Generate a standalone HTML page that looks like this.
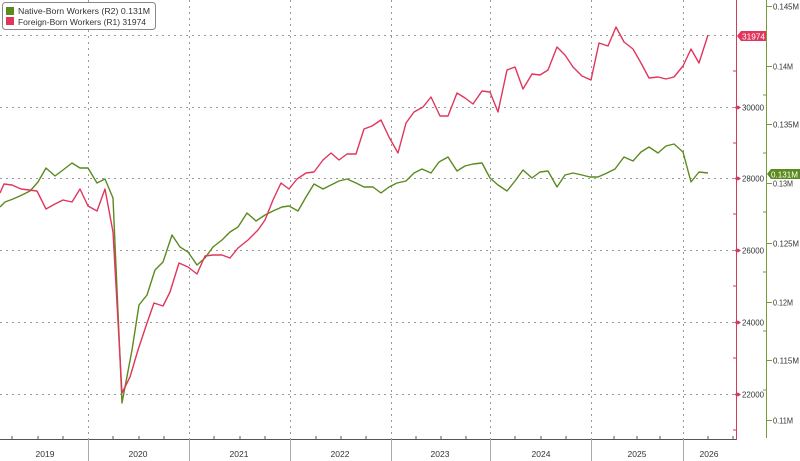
<!DOCTYPE html>
<html><head><meta charset="utf-8"><style>
html,body{margin:0;padding:0;background:#fff;}
svg{display:block;}
text{font-family:"Liberation Sans","DejaVu Sans",sans-serif;}
</style></head><body>
<svg width="800" height="461" viewBox="0 0 800 461" xmlns="http://www.w3.org/2000/svg">
<rect width="800" height="461" fill="#fff"/>
<!-- horizontal grid -->
<g stroke="#999" stroke-width="1" stroke-dasharray="2,4">
<line x1="0" y1="35.5" x2="736" y2="35.5"/>
<line x1="0" y1="107.5" x2="736" y2="107.5"/>
<line x1="0" y1="178.5" x2="736" y2="178.5"/>
<line x1="0" y1="250.5" x2="736" y2="250.5"/>
<line x1="0" y1="322.5" x2="736" y2="322.5"/>
<line x1="0" y1="394.5" x2="736" y2="394.5"/>
</g>
<!-- vertical grid -->
<g stroke="#999" stroke-width="1" stroke-dasharray="2,4">
<line x1="88.5" y1="0" x2="88.5" y2="439"/>
<line x1="189.5" y1="0" x2="189.5" y2="439"/>
<line x1="290.5" y1="0" x2="290.5" y2="439"/>
<line x1="391.5" y1="0" x2="391.5" y2="439"/>
<line x1="490.5" y1="0" x2="490.5" y2="439"/>
<line x1="591.5" y1="0" x2="591.5" y2="439"/>
<line x1="683.5" y1="0" x2="683.5" y2="439"/>
</g>
<!-- x axis -->
<line x1="0" y1="439.5" x2="737" y2="439.5" stroke="#555" stroke-width="1"/>
<g stroke="#555" stroke-width="1">
<line x1="12" y1="436" x2="12" y2="439"/><line x1="38" y1="436" x2="38" y2="439"/><line x1="63" y1="436" x2="63" y2="439"/>
<line x1="113" y1="436" x2="113" y2="439"/><line x1="139" y1="436" x2="139" y2="439"/><line x1="164" y1="436" x2="164" y2="439"/>
<line x1="214" y1="436" x2="214" y2="439"/><line x1="240" y1="436" x2="240" y2="439"/><line x1="265" y1="436" x2="265" y2="439"/>
<line x1="316" y1="436" x2="316" y2="439"/><line x1="341" y1="436" x2="341" y2="439"/><line x1="366" y1="436" x2="366" y2="439"/>
<line x1="416" y1="436" x2="416" y2="439"/><line x1="441" y1="436" x2="441" y2="439"/><line x1="466" y1="436" x2="466" y2="439"/>
<line x1="515" y1="436" x2="515" y2="439"/><line x1="541" y1="436" x2="541" y2="439"/><line x1="566" y1="436" x2="566" y2="439"/>
<line x1="614" y1="436" x2="614" y2="439"/><line x1="637" y1="436" x2="637" y2="439"/><line x1="660" y1="436" x2="660" y2="439"/>
<line x1="708" y1="436" x2="708" y2="439"/><line x1="733" y1="436" x2="733" y2="439"/>
</g>
<g stroke="#aaa" stroke-width="1">
<line x1="88.5" y1="439" x2="88.5" y2="461"/>
<line x1="189.5" y1="439" x2="189.5" y2="461"/>
<line x1="290.5" y1="439" x2="290.5" y2="461"/>
<line x1="391.5" y1="439" x2="391.5" y2="461"/>
<line x1="490.5" y1="439" x2="490.5" y2="461"/>
<line x1="591.5" y1="439" x2="591.5" y2="461"/>
<line x1="683.5" y1="439" x2="683.5" y2="461"/>
</g>
<g font-size="8.5" fill="#333" text-anchor="middle">
<text x="45" y="457">2019</text>
<text x="138" y="457">2020</text>
<text x="239" y="457">2021</text>
<text x="340" y="457">2022</text>
<text x="440" y="457">2023</text>
<text x="541" y="457">2024</text>
<text x="637" y="457">2025</text>
<text x="709" y="457">2026</text>
</g>
<!-- red axis -->
<line x1="736.5" y1="0" x2="736.5" y2="440" stroke="#d23a5c" stroke-width="1"/>
<g stroke="#d23a5c" stroke-width="1">
<line x1="733" y1="71" x2="737" y2="71"/><line x1="733" y1="143" x2="737" y2="143"/><line x1="733" y1="214" x2="737" y2="214"/>
<line x1="733" y1="286" x2="737" y2="286"/><line x1="733" y1="358" x2="737" y2="358"/><line x1="733" y1="430" x2="737" y2="430"/>
</g>
<g fill="#d23a5c">
<path d="M734,107.5 L738,105.5 L741,107.5 L738,109.5Z"/>
<path d="M734,178.5 L738,176.5 L741,178.5 L738,180.5Z"/>
<path d="M734,250.5 L738,248.5 L741,250.5 L738,252.5Z"/>
<path d="M734,322.5 L738,320.5 L741,322.5 L738,324.5Z"/>
<path d="M734,394.5 L738,392.5 L741,394.5 L738,396.5Z"/>
</g>
<g font-size="8" fill="#333">
<text x="742" y="110.5" textLength="22" lengthAdjust="spacingAndGlyphs">30000</text>
<text x="742" y="181.5" textLength="22" lengthAdjust="spacingAndGlyphs">28000</text>
<text x="742" y="253.5" textLength="22" lengthAdjust="spacingAndGlyphs">26000</text>
<text x="742" y="325.5" textLength="22" lengthAdjust="spacingAndGlyphs">24000</text>
<text x="742" y="397.5" textLength="22" lengthAdjust="spacingAndGlyphs">22000</text>
</g>
<!-- green axis -->
<line x1="766.5" y1="0" x2="766.5" y2="438" stroke="#7a9a3a" stroke-width="1"/>
<g stroke="#7a9a3a" stroke-width="1">
<line x1="763" y1="36" x2="767" y2="36"/><line x1="763" y1="95" x2="767" y2="95"/><line x1="763" y1="153" x2="767" y2="153"/>
<line x1="763" y1="212" x2="767" y2="212"/><line x1="763" y1="272" x2="767" y2="272"/><line x1="763" y1="331" x2="767" y2="331"/>
<line x1="763" y1="390" x2="767" y2="390"/>
<line x1="767" y1="6.5" x2="772" y2="6.5"/><line x1="767" y1="66.5" x2="772" y2="66.5"/><line x1="767" y1="124.5" x2="772" y2="124.5"/>
<line x1="767" y1="183.5" x2="772" y2="183.5"/><line x1="767" y1="243.5" x2="772" y2="243.5"/><line x1="767" y1="302.5" x2="772" y2="302.5"/>
<line x1="767" y1="360.5" x2="772" y2="360.5"/><line x1="767" y1="420.5" x2="772" y2="420.5"/>
</g>
<g font-size="8" fill="#333">
<text x="773" y="9.5" textLength="26" lengthAdjust="spacingAndGlyphs">0.145M</text>
<text x="773" y="69.5" textLength="20" lengthAdjust="spacingAndGlyphs">0.14M</text>
<text x="773" y="127.5" textLength="26" lengthAdjust="spacingAndGlyphs">0.135M</text>
<text x="773" y="186.5" textLength="20" lengthAdjust="spacingAndGlyphs">0.13M</text>
<text x="773" y="246.5" textLength="26" lengthAdjust="spacingAndGlyphs">0.125M</text>
<text x="773" y="305.5" textLength="20" lengthAdjust="spacingAndGlyphs">0.12M</text>
<text x="773" y="363.5" textLength="26" lengthAdjust="spacingAndGlyphs">0.115M</text>
<text x="773" y="423.5" textLength="20" lengthAdjust="spacingAndGlyphs">0.11M</text>
</g>
<!-- series -->
<polyline fill="none" stroke="#5b8a1e" stroke-width="1.4" stroke-linejoin="round" points="0,207 5,202 13,199 22,195 30,191 38,182 46,168 55,176 63,170 72,163 80,168 88,168 97,183 105,179 113,198 122,403 132,350 139,305 147,295 155,270 163,262 172,235 180,247 188,252 197,265 205,258 213,247 222,240 230,232 238,227 247,213 256,221 265,215 273,211 282,207 289,206 298,211 306,197 314,184 323,189 331,185 339,181 347,179 356,183 364,187 373,187 381,193 389,187 397,183 406,181 414,173 422,169 431,173 439,162 448,157 457,171 465,166 473,164 482,163 490,178 498,185 507,191 515,181 523,170 532,178 540,172 548,171 557,187 565,175 573,173 582,175 590,177 598,177 607,173 615,169 624,157 633,161 641,152 649,147 658,153 666,146 674,144 683,152 691,182 699,172 708,173"/>
<polyline fill="none" stroke="#e0365c" stroke-width="1.4" stroke-linejoin="round" points="0,193 4,184 12,185 21,189 29,190 37,191 46,209 55,204 63,200 72,202 80,189 88,206 97,211 105,189 113,232 122,393 130,377 138,350 147,323 154,303 163,306 170,292 179,263 188,267 197,274 205,256 213,255 222,255 230,258 238,248 248,240 258,230 265,220 273,200 281,183 289,189 297,179 306,173 314,172 323,160 331,153 339,160 347,154 356,154 364,129 372,126 381,120 389,137 398,153 406,123 414,112 423,107 431,97 440,116 448,116 457,93 465,98 473,104 482,91 490,92 498,112 507,70 515,67 523,89 532,74 540,75 548,70 557,47 565,55 573,67 582,76 591,80 599,43 608,46 616,27 624,42 633,49 641,63 649,78 658,77 666,79 674,77 683,66 691,49 699,63 708,35"/>
<!-- value tags -->
<path d="M737,36 L741,31 L766,31 L766,41 L741,41Z" fill="#e0365c"/>
<text x="742" y="39.5" font-size="8" fill="#fff" textLength="23" lengthAdjust="spacingAndGlyphs">31974</text>
<path d="M767,174 L771,169 L800,169 L800,179 L771,179Z" fill="#5b8a1e"/>
<text x="771" y="177.5" font-size="8" fill="#fff" textLength="27" lengthAdjust="spacingAndGlyphs">0.131M</text>
<!-- legend -->
<rect x="2.5" y="2.5" width="153" height="27" rx="3" fill="#fff" stroke="#888" stroke-width="1"/>
<rect x="6" y="7" width="8" height="8" fill="#5b8a1e"/>
<rect x="6" y="17" width="8" height="8" fill="#e0365c"/>
<g font-size="8.5" fill="#333">
<text x="18" y="14" textLength="132" lengthAdjust="spacingAndGlyphs">Native-Born Workers (R2)  0.131M</text>
<text x="18" y="25" textLength="128" lengthAdjust="spacingAndGlyphs">Foreign-Born Workers (R1) 31974</text>
</g>
</svg>
</body></html>
